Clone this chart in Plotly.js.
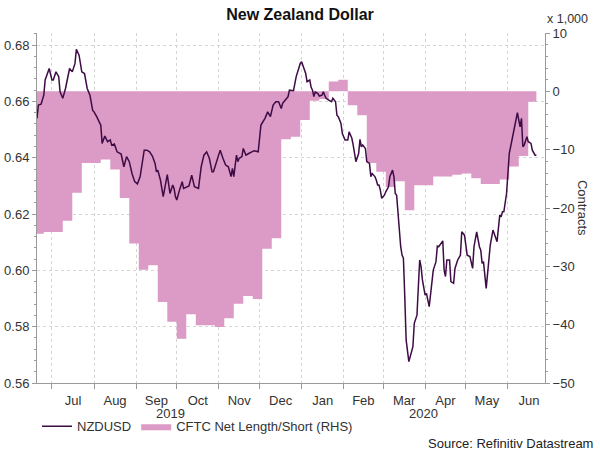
<!DOCTYPE html>
<html>
<head>
<meta charset="utf-8">
<script src="https://cdn.plot.ly/plotly-3.0.1.min.js"></script>
<style>html,body{margin:0;padding:0;background:#fff;}#chart{width:600px;height:450px;}</style>
</head>
<body>
<div id="chart"></div>
<script>
// NZDUSD spot (left axis)
const nzdDates = [
"2019-06-20","2019-06-21","2019-06-23","2019-06-25","2019-06-26","2019-06-29","2019-07-01","2019-07-02","2019-07-04","2019-07-06",
"2019-07-07","2019-07-09","2019-07-11","2019-07-12","2019-07-14","2019-07-16","2019-07-18","2019-07-19","2019-07-21","2019-07-23",
"2019-07-25","2019-07-27","2019-07-29","2019-07-31","2019-08-01","2019-08-03","2019-08-05","2019-08-06","2019-08-07","2019-08-09",
"2019-08-11","2019-08-13","2019-08-14","2019-08-16","2019-08-18","2019-08-20","2019-08-21","2019-08-23","2019-08-25","2019-08-27",
"2019-08-29","2019-08-31","2019-09-02","2019-09-04","2019-09-05","2019-09-07","2019-09-09","2019-09-11","2019-09-13","2019-09-15",
"2019-09-16","2019-09-17","2019-09-19","2019-09-21","2019-09-24","2019-09-26","2019-09-28","2019-09-29","2019-09-30","2019-10-01",
"2019-10-03","2019-10-05","2019-10-06","2019-10-08","2019-10-10","2019-10-12","2019-10-14","2019-10-17","2019-10-19","2019-10-21",
"2019-10-23","2019-10-25","2019-10-27","2019-10-28","2019-10-30","2019-11-02","2019-11-04","2019-11-06","2019-11-08","2019-11-10",
"2019-11-11","2019-11-12","2019-11-14","2019-11-15","2019-11-16","2019-11-18","2019-11-19","2019-11-21","2019-11-23","2019-11-25",
"2019-11-27","2019-11-30","2019-12-02","2019-12-05","2019-12-07","2019-12-09","2019-12-11","2019-12-13","2019-12-15","2019-12-17",
"2019-12-18","2019-12-20","2019-12-22","2019-12-23","2019-12-26","2019-12-28","2019-12-30","2019-12-31","2020-01-01","2020-01-02",
"2020-01-04","2020-01-05","2020-01-07","2020-01-08","2020-01-09","2020-01-10","2020-01-11","2020-01-13","2020-01-14","2020-01-16",
"2020-01-17","2020-01-18","2020-01-19","2020-01-21","2020-01-23","2020-01-24","2020-01-26","2020-01-27","2020-01-28","2020-01-30",
"2020-01-31","2020-02-02","2020-02-04","2020-02-05","2020-02-07","2020-02-08","2020-02-09","2020-02-10","2020-02-12","2020-02-13",
"2020-02-14","2020-02-15","2020-02-17","2020-02-18","2020-02-20","2020-02-21","2020-02-22","2020-02-24","2020-02-25","2020-02-26",
"2020-02-27","2020-02-28","2020-02-29","2020-03-02","2020-03-03","2020-03-05","2020-03-06","2020-03-08","2020-03-09","2020-03-10",
"2020-03-11","2020-03-13","2020-03-14","2020-03-15","2020-03-16","2020-03-17","2020-03-18","2020-03-20","2020-03-22","2020-03-23",
"2020-03-24","2020-03-26","2020-03-27","2020-03-28","2020-03-29","2020-03-30","2020-04-01","2020-04-02","2020-04-04","2020-04-06",
"2020-04-07","2020-04-09","2020-04-10","2020-04-11","2020-04-14","2020-04-15","2020-04-16","2020-04-17","2020-04-19","2020-04-20",
"2020-04-22","2020-04-23","2020-04-25","2020-04-27","2020-04-28","2020-04-30","2020-05-02","2020-05-04","2020-05-06","2020-05-07",
"2020-05-09","2020-05-11","2020-05-12","2020-05-13","2020-05-14","2020-05-16","2020-05-18","2020-05-19","2020-05-21","2020-05-23",
"2020-05-24","2020-05-26","2020-05-27","2020-05-28","2020-05-29","2020-05-31","2020-06-01","2020-06-02","2020-06-04","2020-06-06",
"2020-06-08","2020-06-09","2020-06-10","2020-06-11","2020-06-12","2020-06-13","2020-06-15","2020-06-16","2020-06-18","2020-06-19",
"2020-06-21","2020-06-22"
];
const nzdValues = [
0.6540,0.6587,0.6590,0.6622,0.6676,0.6717,0.6676,0.6676,0.6705,0.6688,
0.6634,0.6611,0.6646,0.6670,0.6717,0.6705,0.6735,0.6785,0.6764,0.6705,
0.6699,0.6646,0.6622,0.6569,0.6563,0.6546,0.6528,0.6516,0.6451,0.6477,
0.6457,0.6463,0.6445,0.6449,0.6421,0.6415,0.6413,0.6368,0.6404,0.6386,
0.6344,0.6315,0.6307,0.6333,0.6368,0.6427,0.6427,0.6421,0.6406,0.6380,
0.6350,0.6356,0.6320,0.6262,0.6340,0.6273,0.6303,0.6291,0.6262,0.6250,
0.6285,0.6315,0.6291,0.6297,0.6300,0.6338,0.6297,0.6291,0.6368,0.6409,
0.6421,0.6398,0.6350,0.6350,0.6380,0.6427,0.6398,0.6374,0.6368,0.6333,
0.6362,0.6333,0.6409,0.6386,0.6398,0.6404,0.6433,0.6409,0.6415,0.6421,
0.6425,0.6421,0.6516,0.6540,0.6563,0.6546,0.6587,0.6599,0.6599,0.6575,
0.6593,0.6605,0.6617,0.6640,0.6638,0.6688,0.6723,0.6735,0.6741,0.6729,
0.6699,0.6670,0.6676,0.6650,0.6640,0.6617,0.6634,0.6628,0.6619,0.6622,
0.6634,0.6622,0.6611,0.6605,0.6599,0.6611,0.6599,0.6551,0.6546,0.6522,
0.6486,0.6463,0.6463,0.6492,0.6469,0.6445,0.6404,0.6386,0.6415,0.6465,
0.6439,0.6445,0.6433,0.6386,0.6380,0.6333,0.6344,0.6333,0.6321,0.6303,
0.6303,0.6285,0.6256,0.6267,0.6279,0.6297,0.6333,0.6356,0.6333,0.6273,
0.6267,0.6143,0.6084,0.6054,0.6043,0.5907,0.5753,0.5676,0.5717,0.5729,
0.5812,0.5841,0.5942,0.6037,0.6013,0.5966,0.5912,0.5918,0.5871,0.5948,
0.6001,0.6031,0.6086,0.6084,0.6105,0.6001,0.5978,0.6037,0.6037,0.5960,
0.5954,0.6007,0.6037,0.6054,0.6137,0.6125,0.6054,0.6049,0.6007,0.6084,
0.6137,0.6084,0.6072,0.6025,0.6031,0.5936,0.6043,0.6090,0.6143,0.6120,
0.6102,0.6196,0.6190,0.6208,0.6208,0.6273,0.6356,0.6415,0.6463,0.6510,
0.6560,0.6534,0.6510,0.6540,0.6439,0.6445,0.6475,0.6457,0.6451,0.6427,
0.6409,0.6409
];
// CFTC net length/short, thousands of contracts (right axis), weekly
const cftcDates = [
"2019-06-18","2019-06-25","2019-07-02","2019-07-09","2019-07-16","2019-07-23","2019-07-30","2019-08-06","2019-08-13","2019-08-20",
"2019-08-27","2019-09-03","2019-09-10","2019-09-17","2019-09-24","2019-10-01","2019-10-08","2019-10-15","2019-10-22","2019-10-29",
"2019-11-05","2019-11-12","2019-11-19","2019-11-26","2019-12-03","2019-12-10","2019-12-17","2019-12-24","2019-12-31","2020-01-07",
"2020-01-14","2020-01-21","2020-01-28","2020-02-04","2020-02-11","2020-02-18","2020-02-25","2020-03-03","2020-03-10","2020-03-17",
"2020-03-24","2020-03-31","2020-04-07","2020-04-14","2020-04-21","2020-04-28","2020-05-05","2020-05-12","2020-05-19","2020-05-26",
"2020-06-02","2020-06-09","2020-06-16","2020-06-22"
];
const cftcValues = [
-24.4,-24.1,-24.1,-22.2,-17.4,-12.3,-12.3,-11.7,-13.4,-18.3,
-26.1,-30.6,-29.8,-36.1,-39.5,-42.4,-38.2,-40.1,-40.1,-40.4,
-38.9,-36.4,-35.1,-35.6,-27.0,-25.2,-8.2,-7.8,-4.9,-1.6,
-1.3,1.7,2.0,-2.4,-4.1,-12.3,-13.8,-16.4,-15.4,-20.4,
-16.1,-16.1,-14.6,-14.6,-14.3,-14.1,-14.9,-15.9,-15.9,-15.1,
-12.9,-11.1,-1.8,-1.8
];
const seriesNames = ["NZDUSD", "CFTC Net Length/Short (RHS)"];
const chartTitle = "New Zealand Dollar";
const yearLabels = ["2019", "2020"];

const FONT = "Liberation Sans, Arial, sans-serif";
const TXT = "#333333";
const AX = "#9a9a9a";
const GRID = "#d4d4d4";

const traces = [
  {
    x: cftcDates, y: cftcValues, name: seriesNames[1], type: "scatter", mode: "lines",
    line: {shape: "hv", width: 0, color: "#dc9ac6"}, fill: "tozeroy", fillcolor: "#dc9ac6",
    yaxis: "y", xaxis: "x", hoverinfo: "skip"
  },
  {
    x: nzdDates, y: nzdValues, name: seriesNames[0], type: "scatter", mode: "lines",
    line: {color: "#3d0c44", width: 1.5}, yaxis: "y2", xaxis: "x"
  }
];

const layout = {
  width: 600, height: 450,
  margin: {l: 37, r: 55, t: 33, b: 67, pad: 0, autoexpand: false},
  paper_bgcolor: "#ffffff", plot_bgcolor: "#ffffff",
  font: {family: FONT, size: 13, color: TXT},
  showlegend: true,
  title: {text: "<b>" + chartTitle + "</b>", font: {family: FONT, size: 16, color: "#111"},
          x: 0.5, xref: "container", y: 0.969, yref: "container", yanchor: "middle"},
  xaxis: {
    type: "date", range: ["2019-06-20", "2020-06-28 08:00"],
    tick0: "2019-07-01", dtick: "M1", tickformat: "%b", ticklabelmode: "period",
    ticks: "outside", ticklen: 5, tickcolor: AX, tickwidth: 1,
    showline: true, linecolor: AX, linewidth: 1,
    showgrid: true, gridcolor: GRID, griddash: "dot", gridwidth: 1,
    tickfont: {family: FONT, size: 13, color: TXT}, zeroline: false
  },
  yaxis: {
    side: "right", range: [-50, 10], dtick: 10, tick0: 0,
    ticks: "outside", ticklen: 4, tickcolor: AX,
    minor: {dtick: 2, ticks: "outside", ticklen: 2, tickcolor: AX, showgrid: false},
    showline: true, linecolor: AX, showgrid: false, zeroline: false,
    tickfont: {family: FONT, size: 13, color: TXT}
  },
  yaxis2: {
    overlaying: "y", side: "left", range: [0.56, 0.6843], dtick: 0.02, tick0: 0.56,
    tickformat: ".2f", ticks: "outside", ticklen: 4, tickcolor: AX,
    minor: {dtick: 0.004, ticks: "outside", ticklen: 2, tickcolor: AX, showgrid: false},
    showline: true, linecolor: AX, showgrid: true, gridcolor: GRID, griddash: "dot",
    zeroline: false, tickfont: {family: FONT, size: 13, color: TXT}
  },
  legend: {
    orientation: "h", x: 0.0, xanchor: "left", y: -0.124, yanchor: "middle",
    font: {family: FONT, size: 13, color: TXT}, traceorder: "reversed",
    bgcolor: "rgba(0,0,0,0)"
  },
  annotations: [
    {text: yearLabels[0], xref: "paper", yref: "paper", x: 0.262, xanchor: "center", y: -0.086, yanchor: "middle",
     showarrow: false, font: {family: FONT, size: 13, color: TXT}},
    {text: yearLabels[1], xref: "paper", yref: "paper", x: 0.76, xanchor: "center", y: -0.086, yanchor: "middle",
     showarrow: false, font: {family: FONT, size: 13, color: TXT}},
    {text: "x 1,000", xref: "paper", yref: "paper", x: 1.045, xanchor: "center", y: 1.04, yanchor: "middle",
     showarrow: false, font: {family: FONT, size: 12.5, color: TXT}},
    {text: "Contracts", xref: "paper", yref: "paper", x: 1.075, xanchor: "center", y: 0.5, yanchor: "middle",
     textangle: 90, showarrow: false, font: {family: FONT, size: 13, color: TXT}},
    {text: "Source: Refinitiv Datastream", xref: "paper", yref: "paper", x: 1.098, xanchor: "right",
     y: -0.174, yanchor: "middle", showarrow: false, font: {family: FONT, size: 13, color: "#222"}}
  ]
};

Plotly.newPlot("chart", traces, layout, {staticPlot: true, displayModeBar: false});
</script>
</body>
</html>
